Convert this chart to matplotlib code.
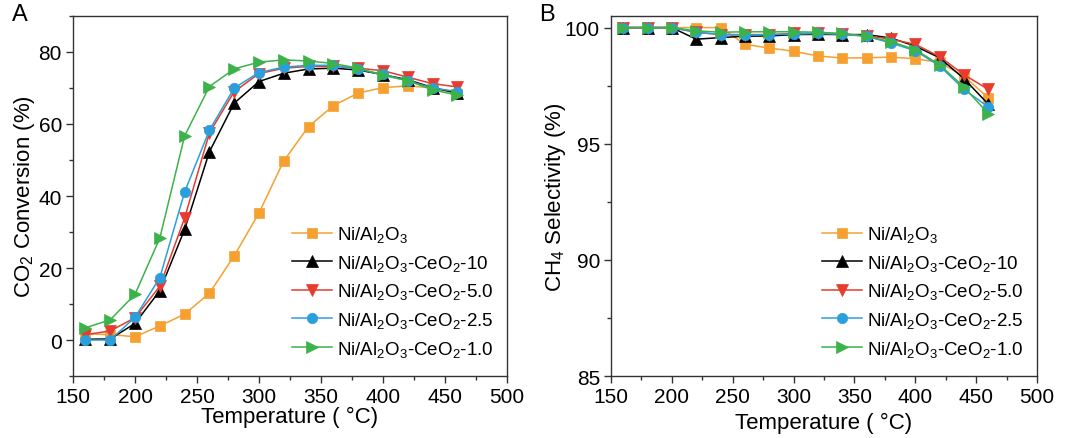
import numpy as np
import matplotlib.pyplot as plt
from matplotlib.ticker import MultipleLocator, AutoMinorLocator

plt.rcParams['font.family'] = ['Liberation Sans', 'DejaVu Sans']
plt.rcParams['mathtext.fontset'] = 'custom'
plt.rcParams['mathtext.rm'] = 'Liberation Sans'

temps = [160, 180, 200, 220, 240, 260, 280, 300, 320, 340, 360, 380, 400, 420, 440, 460]

labels = [r'Ni/Al$\mathregular{_2}$O$\mathregular{_3}$',
          r'Ni/Al$\mathregular{_2}$O$\mathregular{_3}$-CeO$\mathregular{_2}$-10',
          r'Ni/Al$\mathregular{_2}$O$\mathregular{_3}$-CeO$\mathregular{_2}$-5.0',
          r'Ni/Al$\mathregular{_2}$O$\mathregular{_3}$-CeO$\mathregular{_2}$-2.5',
          r'Ni/Al$\mathregular{_2}$O$\mathregular{_3}$-CeO$\mathregular{_2}$-1.0']

# CO2 conversion (%)
conv_al = [1.7, 1.5, 0.9, 3.9, 7.2, 13.0, 23.4, 35.3, 49.8, 59.3, 65.1, 68.6, 70.1, 70.6, 70.0, 68.4]
conv_ce10 = [0.2, 0.3, 4.6, 13.7, 30.7, 52.3, 65.8, 71.8, 74.1, 75.3, 75.5, 75.0, 73.7, 72.3, 70.1, 68.6]
conv_ce50 = [1.5, 2.5, 6.2, 14.9, 33.9, 57.5, 69.0, 74.0, 75.5, 76.0, 76.0, 75.5, 74.8, 73.0, 71.2, 70.3]
conv_ce25 = [0.0, 0.0, 6.3, 17.3, 41.1, 58.3, 70.0, 74.3, 75.8, 76.3, 76.3, 75.2, 73.8, 72.0, 70.0, 69.0]
conv_ce10b = [3.4, 5.6, 12.7, 28.3, 56.7, 70.4, 75.3, 77.2, 77.8, 77.5, 76.8, 75.5, 73.5, 72.0, 69.5, 68.0]

# CH4 selectivity (%)
sel_al = [100.0, 100.0, 100.0, 100.0, 100.0, 99.28, 99.12, 98.98, 98.78, 98.69, 98.70, 98.73, 98.66, 98.50, 97.90, 96.98]
sel_ce10 = [100.0, 100.0, 100.0, 99.50, 99.57, 99.63, 99.64, 99.70, 99.71, 99.70, 99.70, 99.55, 99.20, 98.70, 97.80, 96.70]
sel_ce50 = [100.0, 100.0, 100.0, 99.80, 99.70, 99.70, 99.70, 99.75, 99.75, 99.72, 99.65, 99.50, 99.28, 98.75, 97.97, 97.34]
sel_ce25 = [100.0, 100.0, 100.0, 99.80, 99.70, 99.68, 99.70, 99.72, 99.75, 99.72, 99.62, 99.34, 99.00, 98.35, 97.34, 96.58]
sel_ce10b = [100.0, 100.0, 100.0, 99.86, 99.80, 99.82, 99.82, 99.82, 99.80, 99.75, 99.62, 99.40, 99.05, 98.40, 97.44, 96.29]

colors = ['#F5A030', 'black', '#E63B2E', '#2B9FDB', '#3BB34A']
markers = ['s', '^', 'v', 'o', '>']
msizes = [6.5, 8, 8, 7.5, 8]

fig = plt.figure(figsize=(10.69, 4.39), dpi=100)
ax1 = fig.add_axes([0.0683, 0.1412, 0.406, 0.8201])
ax2 = fig.add_axes([0.5716, 0.1412, 0.3985, 0.8201])


def draw(ax, series):
    for y, c, m, ms, lab in zip(series, colors, markers, msizes, labels):
        ax.plot(temps, y, color=c, marker=m, markersize=ms, lw=1.1,
                markeredgewidth=0.5, markeredgecolor=c, label=lab)
    ax.set_xlim(150, 500)
    ax.xaxis.set_major_locator(MultipleLocator(50))
    ax.xaxis.set_minor_locator(AutoMinorLocator(2))
    ax.yaxis.set_minor_locator(AutoMinorLocator(2))
    ax.tick_params(which='both', direction='out', labelsize=15, width=1, color='#333333', pad=3)
    ax.tick_params(which='major', length=5)
    ax.tick_params(which='minor', length=3)
    for s in ax.spines.values():
        s.set_linewidth(1)
        s.set_color('#333333')
    ax.legend(loc='lower right', bbox_to_anchor=(1.0, 0.012), frameon=False, fontsize=13.5,
              handlelength=2.1, handletextpad=0.3, labelspacing=0.46, borderaxespad=0.3)


draw(ax1, [conv_al, conv_ce10, conv_ce50, conv_ce25, conv_ce10b])
ax1.set_ylim(-10, 90)
ax1.yaxis.set_major_locator(MultipleLocator(20))
ax1.set_ylabel(r'CO$\mathregular{_2}$ Conversion (%)', fontsize=16, labelpad=1)
ax1.set_xlabel('Temperature ( °C)', fontsize=16, labelpad=0)

draw(ax2, [sel_al, sel_ce10, sel_ce50, sel_ce25, sel_ce10b])
ax2.set_ylim(85, 100.5)
ax2.yaxis.set_major_locator(MultipleLocator(5))
ax2.set_ylabel(r'CH$\mathregular{_4}$ Selectivity (%)', fontsize=16, labelpad=-2)
ax2.set_xlabel('Temperature ( °C)', fontsize=16, labelpad=4)

fig.text(0.011, 0.952, 'A', fontsize=17)
fig.text(0.504, 0.952, 'B', fontsize=17)

fig.savefig('out.png', dpi=100)
